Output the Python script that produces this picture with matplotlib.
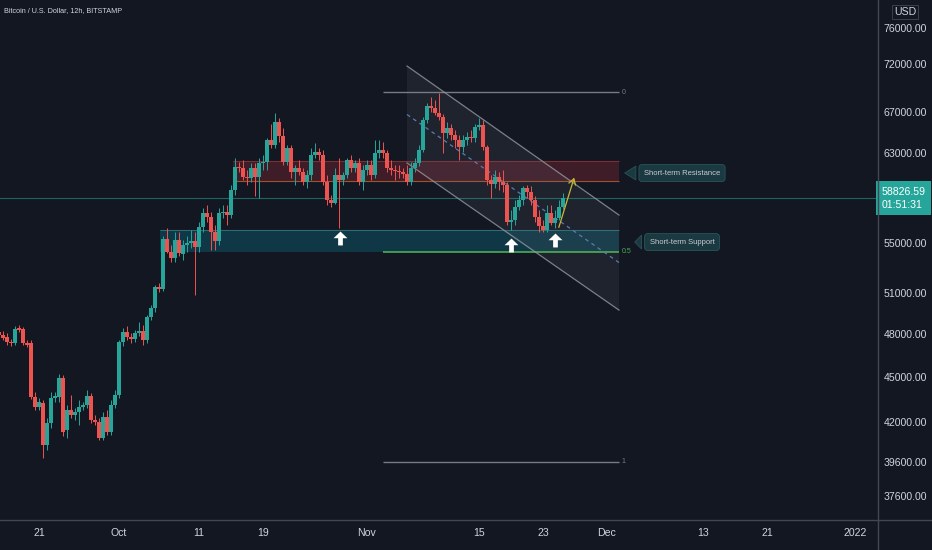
import matplotlib
matplotlib.use("Agg")
import matplotlib.pyplot as plt
import matplotlib.dates as mdates
from matplotlib.patches import Rectangle, Polygon
from matplotlib.lines import Line2D
from matplotlib.path import Path
from matplotlib.ticker import NullLocator
import pandas as pd
import numpy as np

# BTC/USD 12h candles from 2021-09-16 00:00 (Bitstamp)
opens = [48120, 47900, 47750, 47400, 47330, 48410, 48330, 47330, 47330, 43640,
         42990, 43250, 40600, 41960, 43570, 43640, 44900, 41520, 42790, 42470,
         42660, 42990, 43110, 43700, 42150, 42020, 41020, 42340, 41400, 43110,
         43770, 47400, 48120, 47750, 47610, 48040, 48190, 47540, 49210, 49880,
         51480, 51330, 55330, 54270, 53780, 55250, 54110, 54840, 55000, 55170,
         54680, 56340, 57540, 57200, 55920, 55170, 57540, 57630, 57370, 59570,
         61670, 61580, 60740, 60650, 61580, 60740, 62040, 62140, 64220, 63730,
         65980, 64600, 62140, 63450, 61210, 61580, 61210, 60290, 60930, 62790,
         63070, 62790, 60290, 58680, 58420, 60930, 60470, 60930, 62320, 61580,
         62040, 60290, 61390, 61860, 60930, 62980, 63260, 62980, 61580, 61390,
         61300, 61210, 61020, 60290, 61580, 62040, 63260, 66180, 67590, 67380,
         66880, 66480, 64900, 65380, 64710, 64220, 63540, 64220, 64510, 64410,
         65480, 65670, 63540, 60470, 60110, 60740, 60290, 60020, 56770, 56940,
         58060, 58680, 59750, 59390, 58680, 57200, 56420, 56090, 57540, 56680,
         57110, 58060]
highs = [48410, 48190, 48040, 47610, 48550, 48620, 48480, 47540, 47540, 43970,
         43570, 43440, 42280, 43970, 43970, 45170, 45100, 43110, 43770, 42920,
         43440, 43310, 44100, 43900, 42470, 42280, 42660, 42790, 43440, 44100,
         47540, 48410, 48550, 48040, 48260, 48840, 48620, 49360, 50110, 51640,
         51800, 55590, 56260, 54840, 55920, 55920, 55250, 55590, 56090, 55920,
         56770, 57970, 58240, 57630, 56510, 57970, 58240, 58240, 60020, 62510,
         62140, 62320, 61390, 62040, 62040, 62510, 62790, 64410, 65770, 66880,
         66380, 65380, 63730, 63730, 61860, 62320, 61580, 61390, 63450, 63930,
         63450, 63260, 60930, 59130, 61580, 62510, 61210, 62510, 62790, 62320,
         62510, 61860, 62320, 62320, 64220, 64220, 64030, 63260, 62320, 61860,
         61860, 61580, 61860, 62140, 62510, 63730, 66480, 67890, 68510, 68200,
         68930, 66780, 65980, 65770, 65190, 64710, 64710, 65000, 65190, 65770,
         66380, 66180, 63730, 60930, 61390, 61210, 61390, 60290, 57800, 58680,
         59130, 59930, 60020, 59930, 59040, 57800, 56940, 58240, 58240, 57800,
         58680, 59300]
lows = [47680, 47540, 47190, 47120, 47190, 48120, 47190, 47040, 43510, 42790,
        42790, 39810, 40290, 41650, 43310, 43310, 41150, 41020, 42280, 42150,
        41840, 42790, 42920, 41960, 41840, 40900, 40900, 41210, 41210, 42920,
        43570, 47120, 47540, 47330, 47400, 47830, 47190, 47330, 48990, 49580,
        51100, 51170, 54190, 53460, 53460, 53940, 53620, 54270, 54590, 50870,
        54270, 55920, 56770, 54430, 54430, 54840, 57110, 56510, 57110, 59130,
        61210, 60470, 60020, 60290, 59040, 58860, 61390, 61390, 63450, 63450,
        64030, 61860, 61860, 60650, 60020, 60930, 60020, 59750, 60470, 62510,
        62320, 60020, 58240, 58060, 58330, 56260, 60020, 60650, 61210, 61210,
        60020, 59570, 60930, 60470, 60650, 62510, 62510, 61210, 60930, 60470,
        60650, 60650, 60020, 60020, 61210, 61760, 63070, 65890, 66980, 66680,
        66180, 62980, 64410, 64220, 63450, 62320, 63070, 63730, 64030, 64030,
        65190, 63260, 60020, 58860, 59750, 59570, 59390, 56510, 56090, 56510,
        57800, 58240, 58860, 58240, 56770, 55920, 55920, 55920, 56510, 56260,
        56940, 57890]
closes = [47900, 47680, 47400, 47330, 48330, 48260, 47330, 47190, 43640, 42990,
          43310, 40600, 41960, 43570, 43700, 44900, 41400, 42790, 42470, 42660,
          42990, 43110, 43700, 42150, 42020, 41020, 42340, 41400, 43110, 43770,
          47400, 48120, 47750, 47610, 48040, 48190, 47540, 49210, 49880, 51480,
          51330, 55330, 54270, 53780, 55250, 54190, 54840, 55000, 55170, 54680,
          56340, 57540, 57200, 55920, 55170, 57540, 57630, 57370, 59570, 61670,
          61580, 60740, 60650, 61580, 60740, 62040, 62140, 64220, 63730, 65980,
          64600, 62140, 63450, 61210, 61580, 61210, 60290, 60930, 62790, 63070,
          62790, 60290, 58680, 58420, 60930, 60470, 60930, 62320, 61580, 62040,
          60290, 61390, 61860, 60930, 62980, 63260, 62980, 61580, 61390, 61300,
          61210, 61020, 60290, 61580, 62040, 63260, 66180, 67590, 67380, 66880,
          66480, 64900, 65380, 64710, 64220, 63540, 64220, 64510, 64410, 65480,
          65670, 63540, 60470, 60110, 60740, 60290, 60020, 56770, 56940, 58060,
          58680, 59750, 59390, 58680, 57200, 56420, 56090, 57540, 56680, 57110,
          58060, 58826.59]

price_ticks = [76000, 72000, 67000, 63000, 55000, 51000, 48000, 45000, 42000, 39600, 37600]
date_ticks = ["2021-09-21", "2021-10-01", "2021-10-11", "2021-10-19", "2021-11-01",
              "2021-11-15", "2021-11-23", "2021-12-01", "2021-12-13", "2021-12-21", "2022-01-01"]
date_labels = ["21", "Oct", "11", "19", "Nov", "15", "23", "Dec", "13", "21", "2022"]

# drawings
resistance_zone = (60380, 62230)
support_zone = (54270, 56090)
fib_high, fib_low = 69000, 39600
channel_upper = (71780, 57370)
channel_lower = (62040, 49730)
bounce_days = [42.625, 64.0, 69.5]
bounce_prices = [55420, 54840, 55250]

BG = "#131722"
UP = "#26a69a"
DOWN = "#ef5350"
TXT = "#d1d4dc"

plt.rcParams["font.family"] = ["Liberation Sans", "DejaVu Sans"]

fig = plt.figure(figsize=(9.32, 5.5), dpi=100, facecolor=BG)
ax = fig.add_axes([0, 30 / 550, 878 / 932, 520 / 550])
ax.set_facecolor(BG)

t0 = pd.Timestamp("2021-09-16")
dates = pd.date_range(t0, periods=len(opens), freq="12h")
x = mdates.date2num(dates)
x0 = mdates.date2num(t0)


def day(d):
    return x0 + d


o = np.array(opens)
h = np.array(highs)
l = np.array(lows)
c = np.array(closes)
colors = np.where(c >= o, UP, DOWN)

# candles
ax.vlines(x, l, h, colors=colors, linewidth=0.7, zorder=3)
body_lo = np.minimum(o, c)
body_h = np.maximum(np.abs(c - o), body_lo * 0.0015)
ax.bar(x, body_h, bottom=body_lo, width=0.42, color=colors, linewidth=0, zorder=4)

# last price line
ax.axhline(closes[-1], color=UP, lw=0.8, alpha=0.55, zorder=2)

# resistance / support zones
ax.add_patch(Rectangle((day(29.25), resistance_zone[0]), 77.5 - 29.25,
                       resistance_zone[1] - resistance_zone[0],
                       facecolor="#f23645", alpha=0.2, edgecolor="none", zorder=1))
ax.hlines(resistance_zone, day(29.25), day(77.5), colors=["#a0522d", "#7a2e36"], lw=0.8, zorder=1)
ax.add_patch(Rectangle((day(20.125), support_zone[0]), 77.5 - 20.125,
                       support_zone[1] - support_zone[0],
                       facecolor="#00bcd4", alpha=0.2, edgecolor="none", zorder=1))
ax.hlines(support_zone[1], day(20.125), day(77.5), colors="#2e6b73", lw=0.8, zorder=1)

# fib levels
fib_mid = (fib_high + fib_low) / 2
ax.hlines([fib_high, fib_low], day(48), day(77.5), colors="#787b86", lw=1, zorder=2)
ax.hlines(fib_mid, day(48), day(77.5), colors="#4caf50", lw=1.2, zorder=2)
for lvl, lab, col in [(fib_high, "0", "#787b86"), (fib_mid, "0.5", "#4caf50"), (fib_low, "1", "#787b86")]:
    ax.text(day(77.85), lvl, lab, color=col, fontsize=5, va="center", ha="left")

# descending channel
cx = [day(51), day(77.5)]
ax.add_patch(Polygon([(cx[0], channel_upper[0]), (cx[1], channel_upper[1]),
                      (cx[1], channel_lower[1]), (cx[0], channel_lower[0])],
                     closed=True, facecolor="#787b86", alpha=0.12, edgecolor="none", zorder=1))
ax.plot(cx, channel_upper, color="#9598a1", lw=0.9, alpha=0.8, zorder=2)
ax.plot(cx, channel_lower, color="#9598a1", lw=0.9, alpha=0.8, zorder=2)
mid = [np.sqrt(channel_upper[0] * channel_lower[0]), np.sqrt(channel_upper[1] * channel_lower[1])]
ax.plot(cx, mid, color="#5b7bb5", lw=0.9, ls=(0, (3, 3)), zorder=2)

# projection arrow
ax.annotate("", xy=(day(72.0), 60930), xytext=(day(69.875), 56090),
            arrowprops=dict(arrowstyle="->,head_length=0.4,head_width=0.25", color="#c9b834", lw=0.9),
            zorder=5)

# white up arrows (custom marker)
arrow_marker = Path([(-0.17, -0.5), (0.17, -0.5), (0.17, 0.02), (0.5, 0.02), (0.0, 0.5),
                     (-0.5, 0.02), (-0.17, 0.02), (-0.17, -0.5)],
                    [Path.MOVETO] + [Path.LINETO] * 6 + [Path.CLOSEPOLY])
ax.plot([day(d) for d in bounce_days], bounce_prices, ls="none", marker=arrow_marker,
        markersize=10, color="white", markeredgewidth=0, zorder=6)

# callouts
for tip_d, tip_p, label in [(77.875, 61110, "Short-term Resistance"),
                            (79.125, 55085, "Short-term Support")]:
    ax.annotate(label, xy=(day(tip_d), tip_p), xytext=(day(85.375), tip_p),
                color="#c8ccd4", fontsize=5.5, ha="center", va="center",
                bbox=dict(boxstyle="round,pad=0.65,rounding_size=0.4", fc="#1b3940", ec="#29555b", lw=0.6),
                arrowprops=dict(arrowstyle="wedge,tail_width=0.9,shrink_factor=0.5",
                                mutation_scale=11, fc="#1b3940", ec="#29555b", lw=0.6),
                zorder=6)

# axes
ax.set_yscale("log")
ax.set_ylim(36270, 79270)
ax.set_xlim(day(0.125), day(109.875))
ax.yaxis.tick_right()
ax.set_yticks(price_ticks)
ax.set_yticklabels([f"{v:.2f}" for v in price_ticks])
ax.yaxis.set_minor_locator(NullLocator())
ax.set_xticks(mdates.date2num(pd.to_datetime(date_ticks)))
ax.set_xticklabels(date_labels)
ax.tick_params(axis="both", length=0, colors=TXT, labelsize=7.6)
ax.tick_params(axis="y", pad=4)
ax.tick_params(axis="x", pad=6)
for s in ax.spines.values():
    s.set_visible(False)

fig.add_artist(Line2D([0, 1], [30 / 550, 30 / 550], color="#434651", lw=1, transform=fig.transFigure))
fig.add_artist(Line2D([878 / 932, 878 / 932], [0, 1], color="#434651", lw=1, transform=fig.transFigure))

# last price label
ax.text(1.004, closes[-1], f"{closes[-1]:.2f}\n01:51:31", transform=ax.get_yaxis_transform(),
        color="white", fontsize=7.6, va="center", ha="left", linespacing=1.4,
        bbox=dict(boxstyle="square,pad=0.5", fc=UP, ec="none"), clip_on=False, zorder=10)

fig.text(905 / 932, 1 - 12 / 550, "USD", color=TXT, fontsize=7.6, ha="center", va="center",
         bbox=dict(boxstyle="square,pad=0.2", fc=BG, ec="#434651", lw=0.6))
fig.text(4 / 932, 1 - 11 / 550, "Bitcoin / U.S. Dollar, 12h, BITSTAMP", color=TXT,
         fontsize=5.2, ha="left", va="center")

fig.savefig("out.png", dpi=100, facecolor=BG)
